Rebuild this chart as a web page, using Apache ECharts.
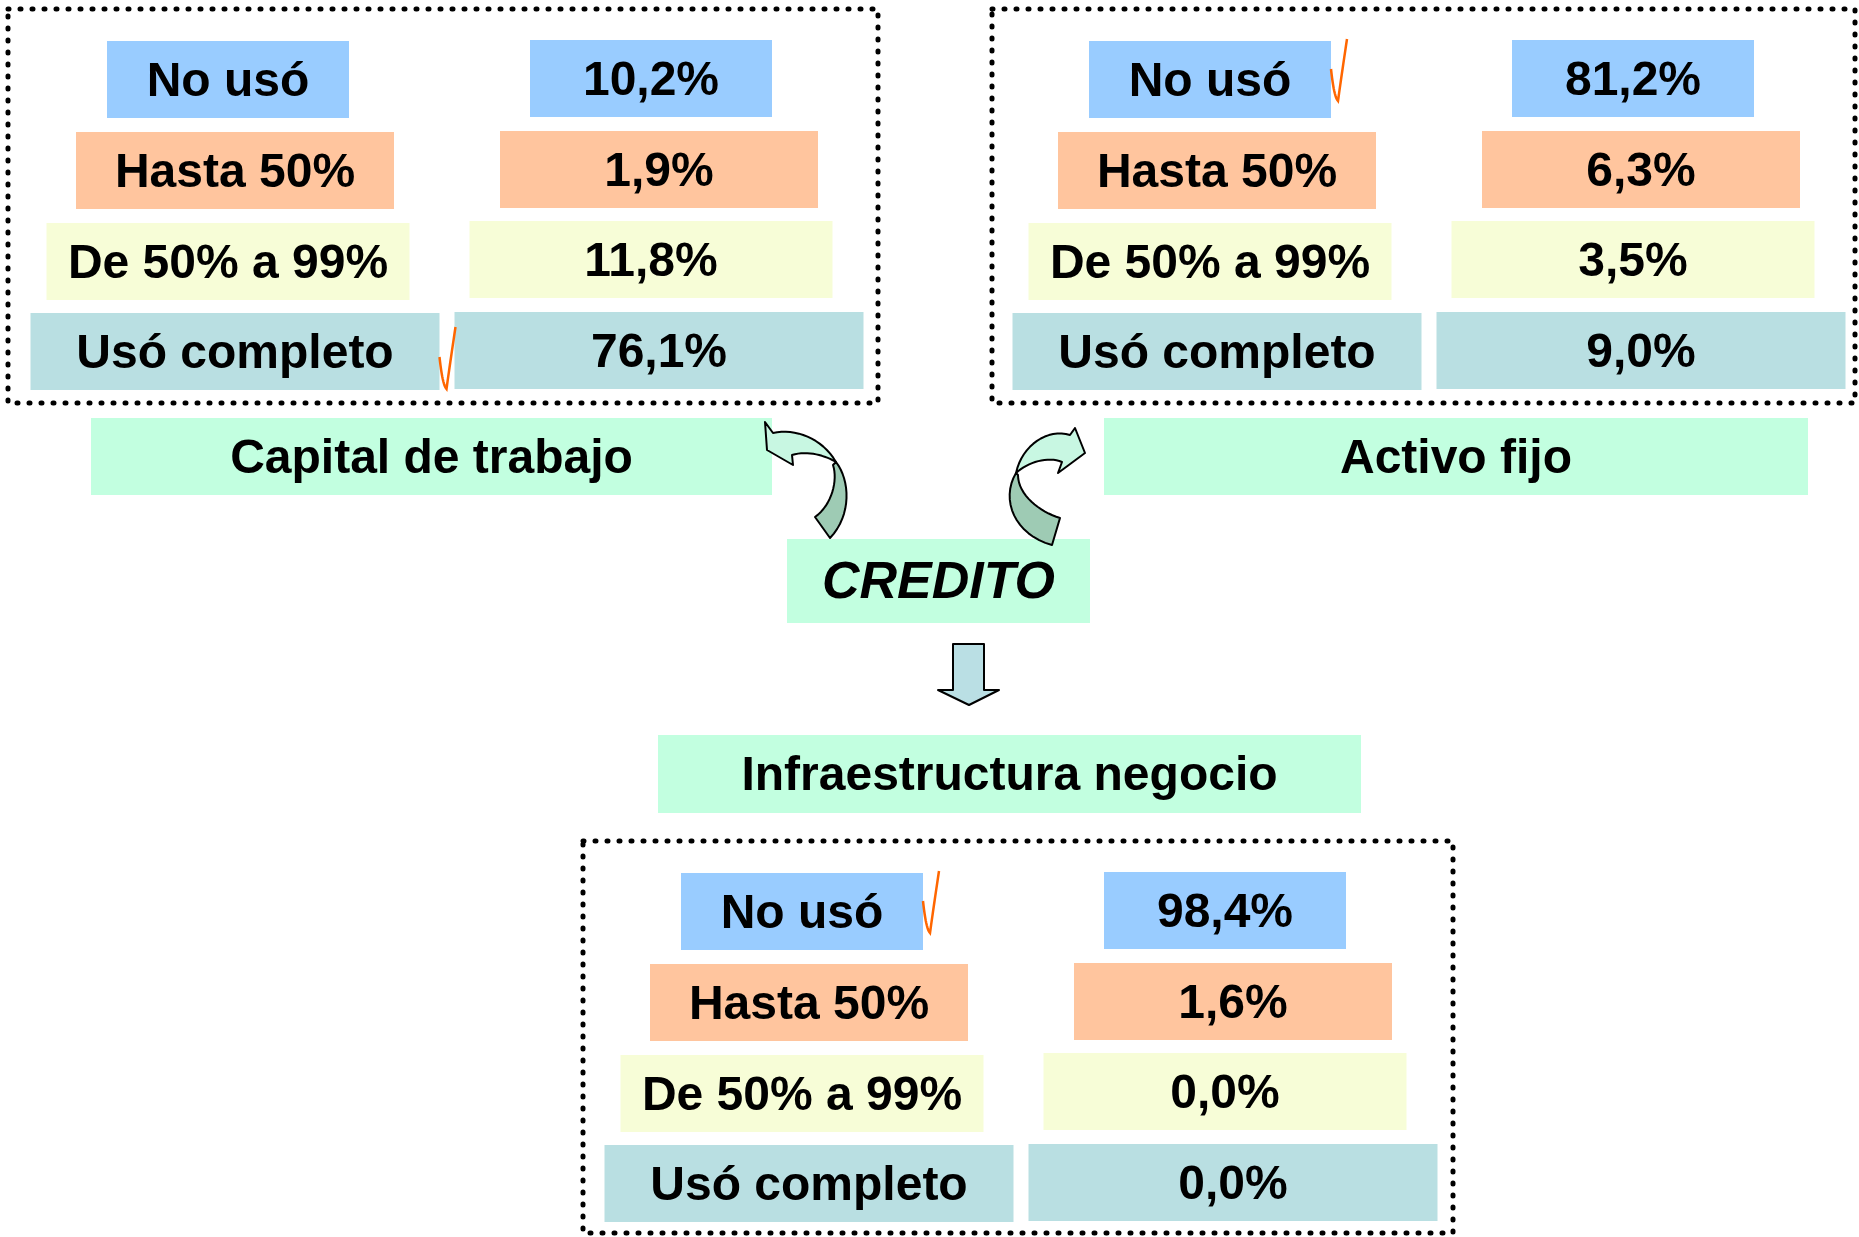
<!DOCTYPE html>
<html>
	<head>
		<meta charset="utf-8">
		<title>Uso del crédito</title>
		<script src="https://cdn.jsdelivr.net/npm/echarts@6/dist/echarts.min.js" type="text/javascript"></script>
		<style type="text/css">
			body{margin: 0; background-color: #fff;}
			#main{width: 1859px; height: 1237px;}
		</style>
	</head>
	<body>
		<div id="main"></div>
		<script type="text/javascript">
			// datos
			var categorias = ['No usó', 'Hasta 50%', 'De 50% a 99%', 'Usó completo'];
			var capitalTrabajo = [10.2, 1.9, 11.8, 76.1];
			var activoFijo = [81.2, 6.3, 3.5, 9.0];
			var infraestructura = [98.4, 1.6, 0.0, 0.0];
			var destinos = ['Capital de trabajo', 'Activo fijo', 'Infraestructura negocio'];
			var marcado = [3, 0, 0]; // fila con el visto en cada bloque
			var centro = 'CREDITO';

			var colores = ['#99CCFF', '#FFC59E', '#F7FDD7', '#B9DFE2'];
			var verde = '#C2FFE0';
			var fuente = 'bold 48px Arial, "Liberation Sans", sans-serif';

			// plantilla de un bloque (coordenadas del bloque izquierdo)
			var anchos = [242, 318, 363, 409];
			var cxEtiqueta = [228, 235, 228, 235];
			var cxValor = [651, 659, 651, 659];
			var yEtiqueta = [41, 132, 223, 313];
			var yValor = [40, 131, 221, 312];
			var bloques = [
				{dx: 0, dy: 0, marco: [8, 9, 870, 394], datos: capitalTrabajo},
				{dx: 982, dy: 0, marco: [992, 9, 863, 394], datos: activoFijo},
				{dx: 574, dy: 832, marco: [583, 841, 870, 392], datos: infraestructura}
			];

			function pct(v) {
				return v.toFixed(1).replace('.', ',') + '%';
			}

			function caja(x, y, w, h, fill, text, font) {
				return {
					type: 'rect',
					shape: {x: x, y: y, width: w, height: h},
					style: {fill: fill},
					textContent: {type: 'text', style: {text: text, font: font || fuente, fill: '#000'}},
					textConfig: {position: 'inside', offset: [0, 3]}
				};
			}

			// convierte segmentos M/L/C/Q en una lista de puntos
			function puntos(segs) {
				var pts = [], p = null;
				segs.forEach(function (s) {
					if (s[0] === 'M' || s[0] === 'L') {
						p = [s[1], s[2]];
						pts.push(p);
					} else if (s[0] === 'C') {
						for (var i = 1; i <= 16; i++) {
							var t = i / 16, u = 1 - t;
							pts.push([
								u * u * u * p[0] + 3 * u * u * t * s[1] + 3 * u * t * t * s[3] + t * t * t * s[5],
								u * u * u * p[1] + 3 * u * u * t * s[2] + 3 * u * t * t * s[4] + t * t * t * s[6]
							]);
						}
						p = [s[5], s[6]];
					} else if (s[0] === 'Q') {
						for (var j = 1; j <= 12; j++) {
							var q = j / 12, r = 1 - q;
							pts.push([
								r * r * p[0] + 2 * r * q * s[1] + q * q * s[3],
								r * r * p[1] + 2 * r * q * s[2] + q * q * s[4]
							]);
						}
						p = [s[3], s[4]];
					}
				});
				return pts;
			}

			function forma(segs, fill) {
				return {
					type: 'polygon',
					shape: {points: puntos(segs)},
					style: {fill: fill, stroke: '#000', lineWidth: 2, lineJoin: 'round'}
				};
			}

			var elementos = [];

			bloques.forEach(function (b, g) {
				elementos.push({
					type: 'rect',
					shape: {x: b.marco[0], y: b.marco[1], width: b.marco[2], height: b.marco[3]},
					style: {fill: 'none', stroke: '#000', lineWidth: 5, lineDash: [1, 11], lineCap: 'round'}
				});
				categorias.forEach(function (c, i) {
					var w = anchos[i];
					elementos.push(caja(b.dx + cxEtiqueta[i] - w / 2, b.dy + yEtiqueta[i], w, 77, colores[i], c));
					elementos.push(caja(b.dx + cxValor[i] - w / 2, b.dy + yValor[i], w, 77, colores[i], pct(b.datos[i])));
				});
				// visto naranja
				var f = marcado[g];
				var x0 = b.dx + cxEtiqueta[f] + anchos[f] / 2;
				var y0 = b.dy + yEtiqueta[f] + (f === 0 ? -2 : 14);
				elementos.push({
					type: 'polyline',
					shape: {points: puntos([['M', x0, y0 + 30], ['Q', x0 + 3, y0 + 58, x0 + 7, y0 + 62], ['Q', x0 + 10, y0 + 40, x0 + 16, y0]])},
					style: {stroke: '#FF6600', lineWidth: 2.5, fill: null}
				});
			});

			// cajas de destino y centro
			elementos.push(caja(91, 418, 681, 77, verde, destinos[0]));
			elementos.push(caja(1104, 418, 704, 77, verde, destinos[1]));
			elementos.push(caja(658, 735, 703, 78, verde, destinos[2]));
			elementos.push(caja(787, 539, 303, 84, verde, centro, 'italic bold 52px Arial, "Liberation Sans", sans-serif'));

			// flecha curva izquierda
			elementos.push(forma([['M', 836, 462], ['C', 850, 480, 852, 515, 830, 538], ['L', 815, 517], ['C', 832, 505, 838, 480, 833, 465]], '#9ECBB4'));
			elementos.push(forma([['M', 765, 422], ['L', 773, 433], ['C', 795, 428, 822, 438, 836, 462], ['C', 826, 456, 808, 450, 792, 455], ['L', 793, 465], ['L', 767, 450]], '#C8F7E2'));
			// flecha curva derecha
			elementos.push(forma([['M', 1016, 473], ['C', 1000, 500, 1015, 535, 1052, 545], ['L', 1060, 518], ['C', 1040, 512, 1018, 495, 1018, 475]], '#9ECBB4'));
			elementos.push(forma([['M', 1085, 453], ['L', 1075, 428], ['L', 1070, 435], ['C', 1048, 428, 1022, 445, 1016, 473], ['C', 1028, 462, 1048, 456, 1062, 462], ['L', 1058, 473]], '#C8F7E2'));
			// flecha hacia abajo
			elementos.push(forma([['M', 953, 644], ['L', 984, 644], ['L', 984, 690], ['L', 999, 690], ['L', 969, 705], ['L', 938, 690], ['L', 953, 690]], '#BADFE4'));

			var myChart = echarts.init(document.getElementById('main'));
			var option = {
				backgroundColor: '#fff',
				animation: false,
				graphic: elementos
			};
			myChart.setOption(option);
		</script>
	</body>
</html>
